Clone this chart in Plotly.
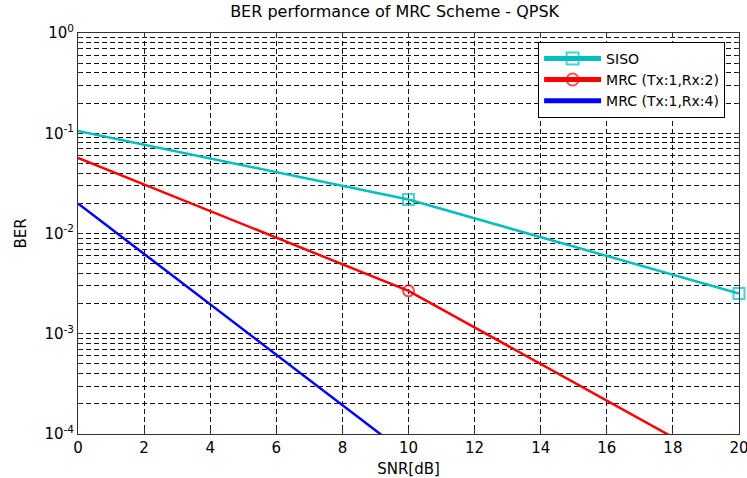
import plotly.graph_objects as go

# ---- data ----
snr_db = [0, 10, 20]
ber_siso = [0.1054, 0.0218, 0.00252]
ber_mrc2 = [0.0567, 0.00268, 0.000040]
snr_mrc4 = [0, 10]
ber_mrc4 = [0.0199, 0.000061]

series_names = ["SISO", "MRC (Tx:1,Rx:2)", "MRC (Tx:1,Rx:4)"]
x_tick_vals = [0, 2, 4, 6, 8, 10, 12, 14, 16, 18, 20]
y_tick_vals = [1e-4, 1e-3, 1e-2, 1e-1, 1e0]
y_tick_text = ["10<sup>-4</sup>", "10<sup>-3</sup>", "10<sup>-2</sup>", "10<sup>-1</sup>", "10<sup>0</sup>"]
# markers shown only at 10 dB and 20 dB
marker_sizes = [0, 11, 11]

FONT = "DejaVu Sans"
TEAL = "rgb(0,191,191)"

fig = go.Figure()
fig.add_trace(go.Scatter(
    x=snr_db, y=ber_siso, name=series_names[0], mode="lines+markers", cliponaxis=False,
    line=dict(color=TEAL, width=2.5),
    marker=dict(symbol="square-open", size=marker_sizes, color=TEAL, line=dict(width=2, color=TEAL)),
))
fig.add_trace(go.Scatter(
    x=snr_db, y=ber_mrc2, name=series_names[1], mode="lines+markers", cliponaxis=True,
    line=dict(color="red", width=2.5),
    marker=dict(symbol="circle-open", size=marker_sizes, color="red", line=dict(width=2, color="red")),
))
fig.add_trace(go.Scatter(
    x=snr_mrc4, y=ber_mrc4, name=series_names[2], mode="lines",
    line=dict(color="blue", width=2.5),
))

grid_kw = dict(showgrid=True, gridcolor="#111", gridwidth=1, griddash="5px,3px")

fig.update_layout(
    width=747, height=478,
    margin=dict(l=78, r=8, t=33, b=44, autoexpand=False),
    paper_bgcolor="white", plot_bgcolor="white",
    font=dict(family=FONT, size=15, color="#000"),
    title=dict(text="BER performance of MRC Scheme - QPSK", x=0.479, xref="paper", xanchor="center",
               y=1, yref="container", yanchor="top", pad=dict(t=6),
               font=dict(family=FONT, size=16, color="#000")),
    showlegend=True,
    legend=dict(x=0.979, xanchor="right", y=0.978, yanchor="top",
                bgcolor="white", bordercolor="#000", borderwidth=1,
                font=dict(family=FONT, size=14, color="#000"),
                itemsizing="constant", itemwidth=57, tracegroupgap=0,
                entrywidth=140, entrywidthmode="pixels"),
)
fig.update_xaxes(
    range=[0, 20], tickvals=x_tick_vals, ticks="inside", ticklen=5, tickcolor="#333",
    showline=True, linecolor="#333", linewidth=1, mirror="ticks", zeroline=False,
    ticklabeloverflow="allow", automargin=False,
    title=dict(text="SNR[dB]", standoff=8, font=dict(family=FONT, size=15)),
    tickfont=dict(family=FONT, size=15), **grid_kw,
)
fig.update_yaxes(
    type="log", range=[-4, 0], tickvals=y_tick_vals, ticktext=y_tick_text,
    ticks="inside", ticklen=5, tickcolor="#333", automargin=False,
    showline=True, linecolor="#333", linewidth=1, mirror="ticks", zeroline=False,
    title=dict(text="BER", standoff=14, font=dict(family=FONT, size=15)),
    tickfont=dict(family=FONT, size=15), **grid_kw,
    minor=dict(dtick="D1", ticks="inside", ticklen=3, tickcolor="#333",
               showgrid=True, gridcolor="#111", gridwidth=1, griddash="5px,3px"),
)

fig.write_html("out.html")
